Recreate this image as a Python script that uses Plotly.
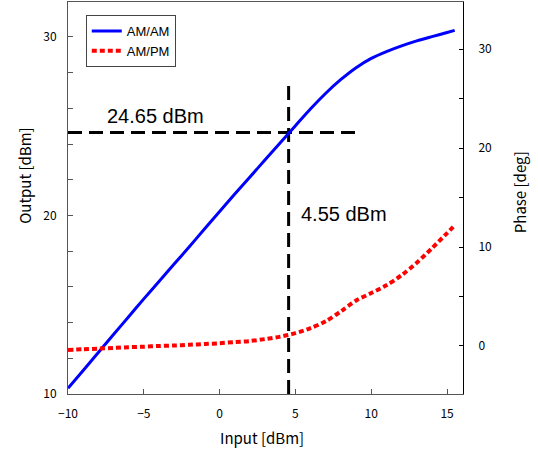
import plotly.graph_objects as go

# ---- data ----
input_dbm = [-10, -9, -8, -7, -6, -5, -4, -3, -2, -1, 0, 1, 2, 3, 4, 5, 6, 7, 8, 9,
             10, 11, 12, 13, 14, 15, 15.5]
am_am_out = [10.32, 11.32, 12.33, 13.33, 14.33, 15.33, 16.3, 17.28, 18.25, 19.24,
             20.22, 21.2, 22.16, 23.12, 24.08, 25.03, 25.98, 26.85, 27.62, 28.28,
             28.8, 29.18, 29.5, 29.78, 30.02, 30.25, 30.37]
am_pm_deg = [-0.4, -0.33, -0.27, -0.2, -0.12, -0.07, 0.0, 0.05, 0.12, 0.2,
             0.28, 0.4, 0.5, 0.7, 0.95, 1.3, 1.8, 2.5, 3.5, 4.6,
             5.35, 6.13, 7.15, 8.41, 9.87, 11.4, 12.2]

p1db_in = 4.55
p1db_out = 24.65
hline_x = [-10, 9.25]
vline_y = [10, 27.5]

x_ticks = [-10, -5, 0, 5, 10, 15]
y_ticks = [10, 20, 30]
y2_ticks = [0, 10, 20, 30]

x_range = [-10, 16.05]
y_range = [10, 31.96]
y2_range = [-4.85, 34.75]

jp = "Noto Sans CJK JP"
latin = "Liberation Sans, Arial, sans-serif"

fig = go.Figure()

# reference dashed lines
fig.add_trace(go.Scatter(x=hline_x, y=[p1db_out, p1db_out], mode="lines",
                         line=dict(color="black", width=3, dash="14px,7px"),
                         showlegend=False, hoverinfo="skip"))
fig.add_trace(go.Scatter(x=[p1db_in, p1db_in], y=vline_y, mode="lines",
                         line=dict(color="black", width=3, dash="14px,7px"),
                         showlegend=False, hoverinfo="skip"))

fig.add_trace(go.Scatter(x=input_dbm, y=am_am_out, mode="lines", name="AM/AM",
                         line=dict(color="#0000ff", width=3, shape="spline", smoothing=0.8)))
fig.add_trace(go.Scatter(x=input_dbm, y=am_pm_deg, mode="lines", name="AM/PM",
                         yaxis="y2",
                         line=dict(color="#ff0000", width=4, dash="5px,3px",
                                   shape="spline", smoothing=0.8)))

fig.update_layout(
    width=538, height=452,
    margin=dict(l=68, r=75, t=2, b=58),
    paper_bgcolor="white", plot_bgcolor="white",
    font=dict(family=jp, size=12, color="black"),
    showlegend=True,
    legend=dict(x=0.045, y=0.967, xanchor="left", yanchor="top",
                bordercolor="#444", borderwidth=1, bgcolor="white",
                font=dict(family=latin, size=13), tracegroupgap=2),
    xaxis=dict(range=x_range, tickvals=x_ticks, ticks="inside", ticklen=5,
               showgrid=False, zeroline=False, showline=True, linecolor="#555",
               linewidth=1, mirror=True, tickcolor="#555",
               ticklabelstandoff=9),
    yaxis=dict(range=y_range, tickvals=y_ticks, ticks="inside", ticklen=5,
               minor=dict(dtick=2, tick0=10, ticks="inside", ticklen=5, tickcolor="#555"),
               showgrid=False, zeroline=False, showline=True, linecolor="#555",
               linewidth=1, tickcolor="#555", ticklabelstandoff=8),
    yaxis2=dict(range=y2_range, tickvals=y2_ticks, ticks="inside", ticklen=4,
                minor=dict(dtick=5, tick0=0, ticks="inside", ticklen=4, tickcolor="black"),
                overlaying="y", side="right", showgrid=False, zeroline=False,
                showline=True, linecolor="black", linewidth=1, tickcolor="black",
                ticklabelstandoff=12),
)

# axis titles
fig.add_annotation(text="Output [dBm]", xref="paper", yref="paper", x=-0.109, y=0.559,
                   xanchor="center", yanchor="middle",
                   textangle=-90, showarrow=False, font=dict(family=jp, size=15))
fig.add_annotation(text="Phase [deg]", xref="paper", yref="paper", x=1.142, y=0.515,
                   xanchor="center", yanchor="middle",
                   textangle=-90, showarrow=False, font=dict(family=jp, size=15))
fig.add_annotation(text="Input [dBm]", xref="paper", yref="paper", x=0.491, y=-0.11,
                   xanchor="center", yanchor="middle",
                   showarrow=False, font=dict(family=jp, size=15))

# value labels
fig.add_annotation(text=f"{p1db_out} dBm", x=-4.26, y=25.6, xref="x", yref="y",
                   showarrow=False, xanchor="center", yanchor="middle",
                   font=dict(family=latin, size=20))
fig.add_annotation(text=f"{p1db_in} dBm", x=5.24, y=20.11, xref="x", yref="y",
                   showarrow=False, xanchor="left", yanchor="middle",
                   font=dict(family=latin, size=20))

fig.write_html("out.html")
